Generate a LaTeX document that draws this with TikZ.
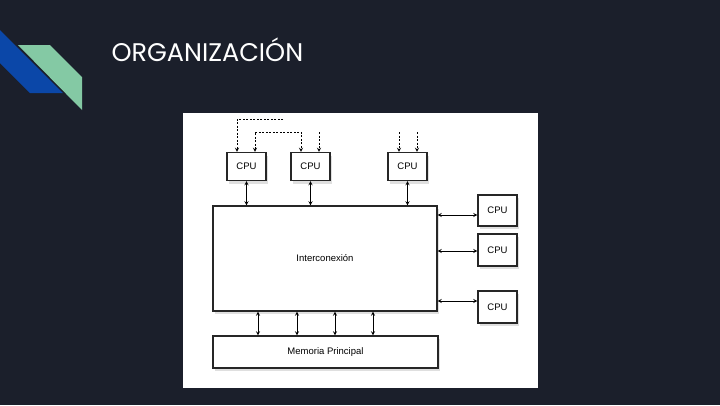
\documentclass[tikz,border=0pt]{standalone}
\usepackage{fontspec}
\setmainfont{Liberation Sans}
\newfontfamily\titlefont{Poppins}
\usetikzlibrary{shadows}
\tikzset{>=stealth}
\definecolor{slidebg}{HTML}{1B1F2B}
\definecolor{stripeblue}{HTML}{0B47A8}
\definecolor{stripegreen}{HTML}{84C9A4}
\tikzset{box/.style={draw=black!85, fill=white, line width=1.1pt, inner sep=0pt,
    drop shadow={shadow xshift=1.5pt, shadow yshift=-3pt, opacity=0.25},
    font=\fontsize{9.5}{11}\selectfont}}
\tikzset{cpubox/.style={box, minimum width=39pt, minimum height=28pt}}
\tikzset{link/.style={<->, line width=0.9pt}}
\tikzset{feed/.style={line width=0.9pt, dash pattern=on 2pt off 1.5pt}}

\begin{document}
\begin{tikzpicture}[x=1pt, y=-1pt]
    \fill [slidebg] (0,0) rectangle (720,405);
    \useasboundingbox (0,0) rectangle (720,405);
    % stripes
    \fill [stripeblue] (0,30) -- (63,93) -- (30,93) -- (0,63) -- cycle;
    \fill [stripegreen] (18,45) -- (50,45) -- (82,77) -- (82,110) -- cycle;
    \node [anchor=base west, text=white, font=\titlefont\fontsize{25.5}{30}\selectfont] (title) at (108,61) {ORGANIZACIÓN};
    % figure
    \fill [white] (183,113) rectangle (538,388);
    \node [cpubox] (cpuA) at (246.5,166.5) {CPU};
    \node [cpubox] (cpuB) at (310.5,166.5) {CPU};
    \node [cpubox] (cpuC) at (407.5,166.5) {CPU};
    \node [box, minimum width=224pt, minimum height=105pt] (interc) at (325,258.5) {Interconexión};
    \node [box, minimum width=225pt, minimum height=32pt] (mem) at (325.5,352) {Memoria Principal};
    \node [cpubox, minimum height=31pt] (cpuD) at (497.5,210.5) {CPU};
    \node [cpubox, minimum height=32pt] (cpuE) at (497.5,250) {CPU};
    \node [cpubox, minimum height=32pt] (cpuF) at (497.5,307) {CPU};
    % buses
    \draw [link] (cpuA.south) -- (cpuA.south |- interc.north);
    \draw [link] (cpuB.south) -- (cpuB.south |- interc.north);
    \draw [link] (cpuC.south) -- (cpuC.south |- interc.north);
    \draw [link] (interc.east |- 0,215) -- (cpuD.west |- 0,215);
    \draw [link] (interc.east |- 0,251) -- (cpuE.west |- 0,251);
    \draw [link] (interc.east |- 0,301) -- (cpuF.west |- 0,301);
    \foreach \x in {258,297,335,373}
        \draw [link] (interc.south -| \x,0) -- (mem.north -| \x,0);
    % inputs
    \coordinate (inA) at (283,119);
    \coordinate (inB) at (319,132);
    \coordinate (inC) at (399,132);
    \coordinate (inD) at (417,132);
    \draw [feed, ->] (inA) -- (237,119) -- (cpuA.north -| 237,0);
    \draw [feed, <->] (cpuA.north -| 255,0) -- (255,132) -- (301,132) -- (cpuB.north -| 301,0);
    \draw [feed, ->] (inB) -- (cpuB.north -| inB);
    \draw [feed, ->] (inC) -- (cpuC.north -| inC);
    \draw [feed, ->] (inD) -- (cpuC.north -| inD);
\end{tikzpicture}
\end{document}
